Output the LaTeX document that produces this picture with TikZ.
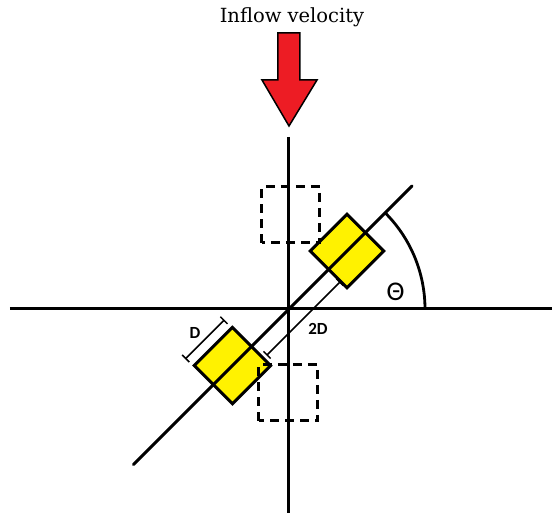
\documentclass[tikz,border=0pt]{standalone}
\usepackage{fontspec}
\newfontfamily\calib{Carlito}
\newfontfamily\titlefont{DejaVu Serif}
\definecolor{arrowred}{HTML}{ED1C24}
\definecolor{boxyellow}{HTML}{FFF200}
\tikzset{
  axisline/.style={line width=3pt},
  boxstyle/.style={draw=black, line width=3pt, fill=boxyellow},
  dashbox/.style={draw=black, line width=3pt, dash pattern=on 9pt off 6pt},
  dimline/.style={line width=1.5pt},
  dimlabel/.style={font=\calib\bfseries\fontsize{17}{20}\selectfont},
}
\begin{document}
\begin{tikzpicture}[x=1pt,y=1pt]
\useasboundingbox (-289,-204) rectangle (263,309);
% title
\node[anchor=base, font=\titlefont\fontsize{19.5}{24}\selectfont, inner sep=0pt] (title) at (3,286) {Inflow velocity};
% red arrow
\draw[fill=arrowred, line width=1.5pt, line join=miter]
  (-11,276) -- (11,276) -- (11,229) -- (28,229) -- (0,183) -- (-27,229) -- (-11,229) -- cycle;
% axes
\coordinate (vtop) at (0,172);
\coordinate (vbot) at (0,-204);
\coordinate (hl) at (-279,0);
\coordinate (hr) at (263,0);
\draw[axisline] (vtop) -- (vbot);
\draw[axisline] (hl) -- (hr);
% rotated frame
\begin{scope}[rotate=45]
  \draw[boxstyle] (56,-26) rectangle (108,26);
  \draw[boxstyle] (-107,-27) rectangle (-53,27);
  \coordinate (dlo) at (-220,0);
  \coordinate (dhi) at (174,0);
  \draw[axisline, line cap=round] (dlo) -- (dhi);
  % D dimension
  \coordinate (Da) at (-108,38);
  \coordinate (Db) at (-54,38);
  \draw[dimline] (Da) -- (Db);
  \draw[dimline] ([yshift=-5pt]Da) -- ([yshift=5pt]Da);
  \draw[dimline] ([yshift=-5pt]Db) -- ([yshift=5pt]Db);
  % 2D dimension
  \coordinate (Ea) at (-48,-17);
  \coordinate (Eb) at (55,-17);
  \draw[dimline] (Ea) -- (Eb);
  \draw[dimline] ([yshift=-5pt]Ea) -- ([yshift=5pt]Ea);
  \draw[dimline] ([yshift=-5pt]Eb) -- ([yshift=5pt]Eb);
\end{scope}
\node[dimlabel] (Dlab) at (-94,-24) {D};
\node[dimlabel] (E2lab) at (29,-20) {2D};
% dashed squares
\draw[dashbox] (-27,66) rectangle (31,122);
\draw[dashbox] (-30,-112) rectangle (29,-56);
% angle arc
\draw[line width=2.8pt] (136,0) arc[start angle=0, end angle=45, radius=136];
\node[font=\calib\fontsize{27}{30}\selectfont] (theta) at (106.5,17.5) {Θ};
\end{tikzpicture}
\end{document}
